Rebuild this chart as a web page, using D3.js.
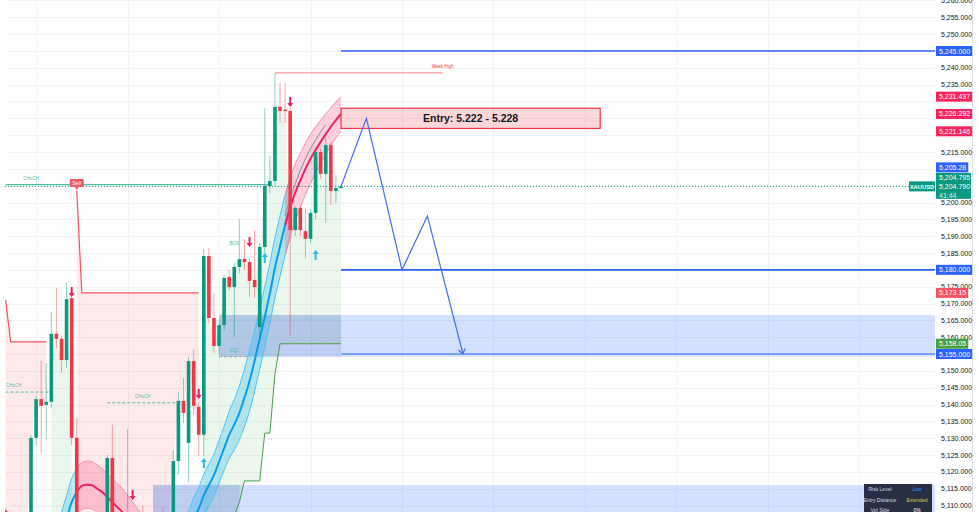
<!DOCTYPE html>
<html>
<head>
<meta charset="utf-8">
<script src="https://cdnjs.cloudflare.com/ajax/libs/d3/7.8.5/d3.min.js"></script>
<style>
  html, body { margin: 0; padding: 0; background: #fff; }
  svg { display: block; font-family: "Liberation Sans", Arial, sans-serif; }
</style>
</head>
<body>
<svg id="chart" width="979" height="512"></svg>
<script>
// ---- candles (one per bar index 0..66), XAUUSD
const opens  = [5108.5,5096,5099,5097,5101,5095,5130.1,5141.6,5139.9,5140.8,5161,5159.5,5153.2,5171.6,5130.1,5094,5090,5094,5097,5092,
                5096,5124.1,5096,5100,5098,5104,5095,5099,5097,5101,5098,5103,5100,5104,5123.2,5141.05,5128.6,5152.9,5139.3,5131,
                5184.1,5165.7,5157.4,5163.6,5177.9,5174.9,5180.85,5183.2,5182.3,5177,5163,5186.8,5204.9,5206.4,5228.4,5227.6,5227.2,5191.8,5198.4,5191.5,
                5189.2,5196.9,5215,5208.5,5217.1,5203.4,5204.3];
const highs  = [5109.2,5102,5104,5103,5106,5131,5142.5,5153,5152.3,5167.5,5174.6,5160.5,5176.1,5172.5,5136,5100,5098,5101,5104,5100,
                5125,5134,5104,5106,5132.7,5107,5102,5110,5104,5106,5105,5109.5,5106,5126.5,5143.7,5147.9,5154.1,5156.2,5141,5186.2,
                5186.5,5173,5165,5178.5,5180,5182,5195.1,5189.2,5183.5,5191.8,5188,5228,5213.8,5238.5,5235.5,5235.5,5228.3,5199,5199,5198.4,
                5198,5216,5216,5220,5218,5208.2,5205.2];
const lows   = [5094,5090,5093,5092,5094,5090,5128,5125.6,5129.5,5139,5156.8,5149.4,5150.9,5128,5088,5085,5084,5088,5090,5086,
                5092,5090,5090,5094,5094,5092,5088,5093,5090,5095,5091,5097,5095,5100,5119.1,5134.5,5117,5137,5124.7,5124.7,
                5164,5155.3,5155,5162,5174,5160,5179,5180,5172,5171.6,5160,5185,5202.8,5205,5223.6,5223.6,5160.4,5190,5190,5183.5,
                5188,5195,5207,5193.9,5199.3,5199.9,5204];
const closes = [5096,5099,5097,5101,5095,5130.1,5141.6,5139.6,5140.8,5161,5159.5,5153.2,5171.3,5130.1,5094,5090,5094,5097,5092,5096,
                5124.1,5096,5100,5098,5104,5095,5099,5097,5101,5098,5103,5100,5104,5123.2,5141.05,5137.5,5152.9,5139.6,5131,5184.1,
                5165.7,5157.4,5163.6,5177.6,5174.9,5180.85,5183.2,5182.3,5176.7,5174.9,5186.8,5204.9,5206.4,5228.4,5227.2,5227.2,5191.8,5198.4,5191.8,5189.2,
                5196.9,5215,5208.5,5217.1,5203.4,5204.3,5204.79];

// ---- supertrend value and direction (1 up, -1 down)
const stValue = [5171,5158.6,5158.6,5158.6,5158.6,5158.6,5158.6,5158.6,5158.6,5098,5099,5100,5101,5102,5203.4,
                 5173.15,5173.15,5173.15,5173.15,5173.15,5173.15,5173.15,5173.15,5173.15,5173.15,5173.15,5173.15,5173.15,5173.15,5173.15,
                 5173.15,5173.15,5173.15,5173.15,5173.15,5173.15,5173.15,5173.15,5173.15,
                 5094,5097,5099,5101,5103,5105,5107,5111,5117.3,5117.3,5117.3,5117.3,5131.5,5131.5,5149,
                 5158.05,5158.05,5158.05,5158.05,5158.05,5158.05,5158.05,5158.05,5158.05,5158.05,5158.05,5158.05,5158.05];
const stDir   = [-1,-1,-1,-1,-1,-1,-1,-1,-1,1,1,1,1,1,-1,
                 -1,-1,-1,-1,-1,-1,-1,-1,-1,-1,-1,-1,-1,-1,-1,-1,-1,-1,-1,-1,-1,-1,-1,-1,
                 1,1,1,1,1,1,1,1,1,1,1,1,1,1,1,1,1,1,1,1,1,1,1,1,1,1,1,1];

// ---- moving-average band (centre and half width, price units)
const maCenter = [null,null,null,null,null,null,null,null,null,null,
                  5096,5101,5106,5111,5114,5115.8,5116.2,5116,5115,5114,5112.5,5111,5109.5,5108,5106,5104,5102,5100,5098,5096.5,
                  5095.5,5095,5095.3,5096.5,5098,5100,5102,5106,5109,5113,5116,5119,5123,5127,5131,5134,5137.5,5142,5147,5153,
                  5159.5,5166,5173,5180.6,5187,5193.3,5198.5,5203,5206.5,5210,5213,5215.6,5218,5220.3,5222.5,5224.5,5226.292];
const maWidth  = [null,null,null,null,null,null,null,null,null,null,
                  7,7,7,7,7,7,7,7,7,7,7,7,7,7,7,7,7,7,7,7,7,7,7,7,7,7,
                  6.3,6.3,6.3,6.3,6.3,6.3,6.3,6.5,7,7.5,8,8.5,9,9,9,9,9,9,9,9,
                  8.8,8.5,8.1,7.7,7.3,6.9,6.4,6,5.6,5.35,5.146];
const maBullRanges = [[10,14],[33,56]];
const maBearRanges = [[14,33],[55,66]];
const slowIdx   = [55,56,57,58,59,60,61,62,63];
const slowValue = [5196,5201,5205.5,5209.5,5213,5216,5218.5,5221,5223];

// ---- signals
const sellIdx = [13,25,38,48,56];
const sellTip = [5171.9,5111.6,5141.6,5186.8,5228.4];
const buyIdx  = [39,51,61];
const buyTip  = [5124.1,5185,5185.9];
const flipIdx = 14;
const flipText = 'Sell';

// ---- structure lines
const structText  = ['CHoCH','CHoCH','CHoCH','EQL'];
const structStart = [0,0,20,42];
const structEnd   = [52,9,34,48];
const structPrice = [5205.28,5143.7,5140.5,5154.2];
const structLabel = [5,1.6,27,45];
const structDash  = [false,true,true,true];
const bosIdx = 45, bosPrice = 5187.5, bosText = 'BOS';
const weekHigh = {start: 53, end: 86, price: 5238.5, text: 'Week High'};

// ---- zones [start, box end, top, bottom]
const zoneStart = [42,29];
const zoneEnd   = [66,46];
const zoneTop   = [5166.6,5116.1];
const zoneBot   = [5154.2,5080];

// ---- plan
const levels    = [5245,5180,5155];
const levelFrom = 66;
const projIdx   = [66,71,78,83,90];
const projPrice = [5204.8,5225,5180,5196,5155];
const entryIdx  = [66,117];
const entryLow = 5222, entryHigh = 5228;
const entryText = 'Entry: 5.222 - 5.228';

// ---- axis
const priceTicks = [5110,5115,5120,5125,5130,5135,5140,5145,5150,5155,5160,5165,5170,5175,5180,5185,5190,5195,
                    5200,5205,5210,5215,5220,5225,5230,5235,5240,5245,5250,5255,5260];
const timeGridIdx = [6,24,42,60,78,96,114,132,150,168];
const tagValues = [5245,5231.437,5226.292,5221.146,5205.28,5180,5173.15,5158.05,5155];
const tagLabels = ['5,245.000','5,231.437','5,226.292','5,221.146','5,205.28','5,180.000','5,173.15','5,158.05','5,155.000'];
const tagKinds  = ['level','band','band','band','level','level','stDown','stUp','level'];
const curPrice  = 5204.79;
const curLines  = ['5,204.795','5,204.790','41:44'];
const symbol    = 'XAUUSD';
const tableKeys = ['Risk Level','Entry Distance','Vol Side'];
const tableVals = ['Low','Extended','0%'];

// ---------------------------------------------------------------
const W = 979, H = 512, plotLeft = 5, plotRight = 935;
const UP = '#089981', DOWN = '#f23645', BLUE = '#2962ff';
const tagColor = {level: BLUE, band: '#f7245f', stDown: '#f7525f', stUp: '#43a047'};
const tableValColor = ['#2196f3', '#e2c33c', '#ffffff'];

const svg = d3.select('#chart');
const x = d3.scaleLinear().domain([0, 183]).range([5.6, 935.6]);
const y = d3.scaleLinear().domain([5245, 5155]).range([51, 354]);
const idx = d3.range(opens.length);

svg.append('defs').append('clipPath').attr('id', 'plotClip')
  .append('rect').attr('x', plotLeft).attr('y', 0).attr('width', plotRight - plotLeft).attr('height', H);

const plot = svg.append('g').attr('clip-path', 'url(#plotClip)');

// grid
plot.selectAll('line.hgrid').data(priceTicks).join('line')
  .attr('x1', plotLeft).attr('x2', plotRight)
  .attr('y1', d => Math.round(y(d)) + 0.5).attr('y2', d => Math.round(y(d)) + 0.5)
  .attr('stroke', '#f2f3f6').attr('stroke-width', 1);
plot.selectAll('line.vgrid').data(timeGridIdx).join('line')
  .attr('x1', d => Math.round(x(d)) + 0.5).attr('x2', d => Math.round(x(d)) + 0.5)
  .attr('y1', 0).attr('y2', H)
  .attr('stroke', '#f2f3f6').attr('stroke-width', 1);

// supertrend fills
const stArea = dir => d3.area()
  .defined(i => stDir[i] === dir)
  .x(i => x(i)).y0(i => y(stValue[i])).y1(i => y(closes[i]));
plot.append('path').datum(idx).attr('d', stArea(-1)).attr('fill', 'rgba(242,54,69,0.11)');
plot.append('path').datum(idx).attr('d', stArea(1)).attr('fill', 'rgba(76,175,80,0.11)');

// zones: box part plus extension to the right
zoneStart.forEach((s, k) => {
  plot.append('rect')
    .attr('x', x(s)).attr('width', x(zoneEnd[k]) - x(s))
    .attr('y', y(zoneTop[k])).attr('height', y(zoneBot[k]) - y(zoneTop[k]))
    .attr('fill', 'rgba(70,100,150,0.14)');
  plot.append('rect')
    .attr('x', x(s)).attr('width', plotRight - x(s))
    .attr('y', y(zoneTop[k])).attr('height', y(zoneBot[k]) - y(zoneTop[k]))
    .attr('fill', 'rgba(41,98,255,0.2)');
});

// supertrend lines
const stLine = dir => d3.line()
  .defined(i => stDir[i] === dir)
  .x(i => x(i)).y(i => y(stValue[i]));
plot.append('path').datum(idx).attr('d', stLine(-1)).attr('fill', 'none').attr('stroke', '#f7525f').attr('stroke-width', 1.2);
plot.append('path').datum(idx).attr('d', stLine(1)).attr('fill', 'none').attr('stroke', '#43a047').attr('stroke-width', 1);

// MA band
const bandArea = d3.area().x(i => x(i)).curve(d3.curveMonotoneX)
  .y0(i => y(maCenter[i] - maWidth[i])).y1(i => y(maCenter[i] + maWidth[i]));
const upperLine = d3.line().x(i => x(i)).y(i => y(maCenter[i] + maWidth[i])).curve(d3.curveMonotoneX);
const lowerLine = d3.line().x(i => x(i)).y(i => y(maCenter[i] - maWidth[i])).curve(d3.curveMonotoneX);
const midLine = d3.line().x(i => x(i)).y(i => y(maCenter[i])).curve(d3.curveMonotoneX);
function drawBand(ranges, fill, edge, mid) {
  ranges.forEach(r => {
    const seg = d3.range(r[0], r[1] + 1);
    plot.append('path').datum(seg).attr('d', bandArea).attr('fill', fill);
    plot.append('path').datum(seg).attr('d', upperLine).attr('fill', 'none').attr('stroke', edge).attr('stroke-width', 1);
    plot.append('path').datum(seg).attr('d', lowerLine).attr('fill', 'none').attr('stroke', edge).attr('stroke-width', 1);
    plot.append('path').datum(seg).attr('d', midLine).attr('fill', 'none').attr('stroke', mid).attr('stroke-width', 2);
  });
}
drawBand(maBullRanges, 'rgba(0,176,240,0.25)', '#4fc3f7', '#0a9be8');
drawBand(maBearRanges, 'rgba(240,40,110,0.22)', '#f48fb1', '#f0206a');
plot.append('path').datum(slowIdx)
  .attr('d', d3.line().x(i => x(i)).y((i, k) => y(slowValue[k])).curve(d3.curveMonotoneX))
  .attr('fill', 'none').attr('stroke', '#8d8d8d').attr('stroke-width', 1);

// structure lines and labels
structText.forEach((t, k) => {
  const yy = y(structPrice[k]);
  plot.append('line')
    .attr('x1', x(structStart[k])).attr('x2', x(structEnd[k]))
    .attr('y1', yy).attr('y2', yy)
    .attr('stroke', k === 3 ? '#9aa8b0' : '#4dbf9f').attr('stroke-width', structDash[k] ? 1 : 1.3)
    .attr('stroke-dasharray', structDash[k] ? '3,2' : null);
  plot.append('text').attr('x', x(structLabel[k])).attr('y', yy - 5)
    .attr('text-anchor', 'middle').attr('font-size', 4.5).attr('fill', '#4dbf9f').text(t);
});
plot.append('text').attr('x', x(bosIdx)).attr('y', y(bosPrice))
  .attr('text-anchor', 'middle').attr('font-size', 4.5).attr('fill', '#4dbf9f').text(bosText);

// week high
plot.append('line')
  .attr('x1', x(weekHigh.start)).attr('x2', x(weekHigh.end))
  .attr('y1', y(weekHigh.price)).attr('y2', y(weekHigh.price))
  .attr('stroke', '#f77c80').attr('stroke-width', 1);
plot.append('text').attr('x', x(weekHigh.end)).attr('y', y(weekHigh.price) - 5)
  .attr('text-anchor', 'middle').attr('font-size', 4.5).attr('fill', '#f23645').text(weekHigh.text);

// current price dotted line
plot.append('line')
  .attr('x1', plotLeft).attr('x2', 909)
  .attr('y1', y(curPrice)).attr('y2', y(curPrice))
  .attr('stroke', '#089981').attr('stroke-width', 1).attr('stroke-dasharray', '1,2');

// blue levels
plot.selectAll('line.level').data(levels).join('line')
  .attr('x1', x(levelFrom)).attr('x2', plotRight)
  .attr('y1', d => y(d)).attr('y2', d => y(d))
  .attr('stroke', BLUE).attr('stroke-width', (d, k) => k === 2 ? 1.2 : 1.6);

// candles
const cw = 3.6;
const candle = plot.selectAll('g.candle').data(idx).join('g');
candle.append('line')
  .attr('x1', i => x(i)).attr('x2', i => x(i))
  .attr('y1', i => y(highs[i])).attr('y2', i => y(lows[i]))
  .attr('stroke', i => closes[i] >= opens[i] ? UP : DOWN).attr('stroke-opacity', 0.45).attr('stroke-width', 1);
candle.append('rect')
  .attr('x', i => x(i) - cw / 2).attr('width', cw)
  .attr('y', i => y(Math.max(opens[i], closes[i])))
  .attr('height', i => Math.max(1, Math.abs(y(opens[i]) - y(closes[i]))))
  .attr('fill', i => closes[i] >= opens[i] ? UP : DOWN);

// signal arrows
function arrow(cx, tipY, dir, color) {
  // dir 1: points up (tip on top), -1: points down
  const s = dir;
  const p = [[0, 0], [3, 4 * s], [1, 4 * s], [1, 10 * s], [-1, 10 * s], [-1, 4 * s], [-3, 4 * s]];
  plot.append('path')
    .attr('d', 'M' + p.map(q => (cx + q[0]) + ',' + (tipY + q[1])).join('L') + 'Z')
    .attr('fill', color);
}
sellIdx.forEach((i, k) => arrow(x(i), y(sellTip[k]), -1, '#e91e63'));
buyIdx.forEach((i, k) => arrow(x(i), y(buyTip[k]), 1, '#29b6f6'));

// flip label
const fy = y(stValue[flipIdx]);
plot.append('path')
  .attr('d', `M${x(flipIdx) - 2},${fy - 4}L${x(flipIdx)},${fy - 1}L${x(flipIdx) + 2},${fy - 4}Z`)
  .attr('fill', '#f55a62');
plot.append('rect').attr('x', x(flipIdx) - 7).attr('y', fy - 12).attr('width', 14).attr('height', 8).attr('rx', 1)
  .attr('fill', '#f55a62');
plot.append('text').attr('x', x(flipIdx)).attr('y', fy - 6)
  .attr('text-anchor', 'middle').attr('font-size', 5.5).attr('fill', '#fff').text(flipText);

// entry box
plot.append('rect')
  .attr('x', x(entryIdx[0])).attr('width', x(entryIdx[1]) - x(entryIdx[0]))
  .attr('y', y(entryHigh)).attr('height', y(entryLow) - y(entryHigh))
  .attr('fill', 'rgba(242,54,69,0.2)').attr('stroke', '#f23645').attr('stroke-width', 1.2);
plot.append('text')
  .attr('x', (x(entryIdx[0]) + x(entryIdx[1])) / 2).attr('y', (y(entryHigh) + y(entryLow)) / 2 + 4)
  .attr('text-anchor', 'middle').attr('font-size', 10.5).attr('font-weight', 'bold').attr('fill', '#131722')
  .text(entryText);

// projection path
const proj = projIdx.map((i, k) => [x(i), y(projPrice[k])]);
plot.append('path').attr('d', d3.line()(proj)).attr('fill', 'none').attr('stroke', '#3f6ff0').attr('stroke-width', 1.2);
const tip = proj[proj.length - 1], prev = proj[proj.length - 2];
const ang = Math.atan2(tip[1] - prev[1], tip[0] - prev[0]);
[-0.6, 0.6].forEach(a => {
  plot.append('line')
    .attr('x1', tip[0]).attr('y1', tip[1])
    .attr('x2', tip[0] - 6 * Math.cos(ang + a)).attr('y2', tip[1] - 6 * Math.sin(ang + a))
    .attr('stroke', '#3f6ff0').attr('stroke-width', 1.2);
});

// symbol tag
const cy = y(curPrice);
svg.append('rect').attr('x', 909).attr('y', cy - 5).attr('width', 26).attr('height', 10).attr('fill', '#089981');
svg.append('text').attr('x', 922).attr('y', cy + 2.2).attr('text-anchor', 'middle')
  .attr('font-size', 5.8).attr('font-weight', 'bold').attr('fill', '#fff').text(symbol);

// info table
const tb = svg.append('g');
tb.append('rect').attr('x', 864).attr('y', 484).attr('width', 68).attr('height', 30).attr('fill', '#262f44');
tableKeys.forEach((k, r) => {
  tb.append('text').attr('x', 880).attr('y', 491 + r * 10.5).attr('text-anchor', 'middle')
    .attr('font-size', 5).attr('fill', '#d7dbe3').text(k);
  tb.append('text').attr('x', 917).attr('y', 491 + r * 10.5).attr('text-anchor', 'middle')
    .attr('font-size', 5).attr('fill', tableValColor[r]).text(tableVals[r]);
});

// price axis
const cyBlockTop = cy - 13.5, cyBlockBottom = cy + 12.5;
const tagY = tagValues.map(v => {
  const ty = y(v);
  return (ty > cyBlockTop - 5 && ty < cyBlockBottom + 5) ? cyBlockTop - 5.5 : ty;
});
const hiddenTick = d => {
  const ty = y(d);
  if (ty > cyBlockTop - 2 && ty < cyBlockBottom) return true;
  return tagY.some(t => Math.abs(t - ty) < 5.5);
};
const axisG = svg.append('g');
axisG.append('line').attr('x1', 972.5).attr('x2', 972.5).attr('y1', 0).attr('y2', H).attr('stroke', '#e0e3eb');
axisG.selectAll('text.tick').data(priceTicks.filter(d => !hiddenTick(d))).join('text')
  .attr('x', 941).attr('y', d => y(d) + 2.5)
  .attr('font-size', 7).attr('fill', '#131722')
  .text(d => d3.format(',.3f')(d));

// current price block
axisG.append('rect').attr('x', 936).attr('y', cyBlockTop).attr('width', 35).attr('height', cyBlockBottom - cyBlockTop).attr('fill', '#089981');
curLines.forEach((t, k) => {
  axisG.append('text').attr('x', 939).attr('y', cyBlockTop + 7.5 + k * 9)
    .attr('font-size', 7).attr('fill', '#fff').attr('fill-opacity', k === 2 ? 0.85 : 1).text(t);
});

// value tags
tagValues.forEach((v, k) => {
  const ty = tagY[k];
  const g = axisG.append('g');
  const rect = g.append('rect').attr('x', 936).attr('y', ty - 5).attr('height', 10).attr('fill', tagColor[tagKinds[k]]);
  const txt = g.append('text').attr('x', 939).attr('y', ty + 2.5)
    .attr('font-size', 7).attr('fill', '#fff').text(tagLabels[k]);
  rect.attr('width', txt.node().getComputedTextLength() + 5);
});
</script>
</body>
</html>
